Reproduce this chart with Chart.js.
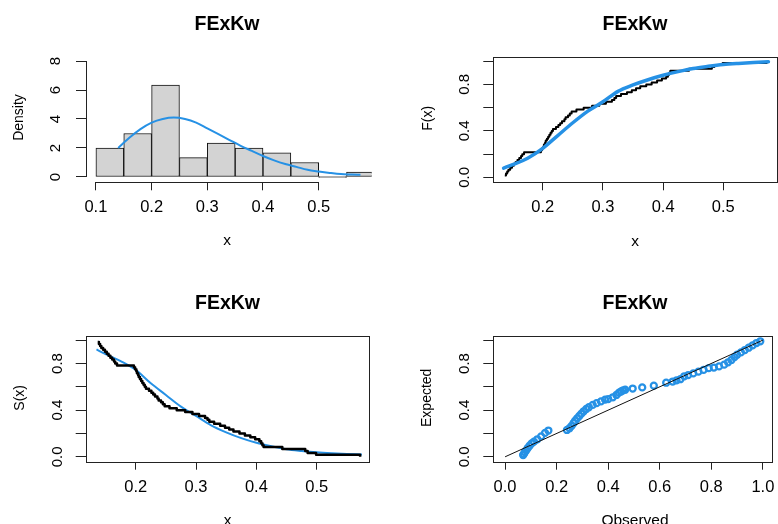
<!DOCTYPE html>
<html><head><meta charset="utf-8">
<script src="https://cdn.jsdelivr.net/npm/chart.js@4.4.1/dist/chart.umd.min.js"></script>
<style>
html,body{margin:0;padding:0;background:#fff;}
#wrap{position:relative;width:778px;height:524px;overflow:hidden;background:#fff;}
canvas{position:absolute;left:0;top:0;}
</style></head><body>
<div id="wrap">
<canvas id="c1" width="778" height="524"></canvas>
<canvas id="c2" width="778" height="524"></canvas>
<canvas id="c3" width="778" height="524"></canvas>
<canvas id="c4" width="778" height="524"></canvas>
</div>
<script>
// ---------------- data ----------------
const panelTitle = 'FExKw';
// histogram
const histBreaks = [0.1,0.15,0.2,0.25,0.3,0.35,0.4,0.45,0.5,0.55,0.6];
const histDensity = [2.0,3.0,6.333,1.333,2.333,2.0,1.667,1.0,0,0.333];
const histXTicks = [0.1,0.2,0.3,0.4,0.5];
const histXLabels = ['0.1','0.2','0.3','0.4','0.5'];
const histYTicks = [0,2,4,6,8];
const histYLabels = ['0','2','4','6','8'];
// fitted density
const densX = [0.14,0.16,0.18,0.2,0.22,0.24,0.26,0.28,0.3,0.32,0.34,0.36,0.38,0.4,0.42,0.44,0.46,0.48,0.5,0.52,0.54,0.56,0.575];
const densY = [2.0,2.7,3.3,3.75,4.0,4.1,4.0,3.75,3.35,2.95,2.55,2.15,1.8,1.45,1.15,0.9,0.7,0.5,0.38,0.28,0.2,0.17,0.15];
// sorted sample (n = 60)
const sample = [0.137,0.139,0.141,0.143,0.146,0.149,
  0.152,0.155,0.158,0.161,0.164,0.166,0.169,0.197,0.199,
  0.201,0.202,0.204,0.205,0.207,0.209,0.211,0.213,0.215,0.217,0.222,0.226,0.229,0.232,0.236,0.238,0.242,0.245,0.248,
  0.256,0.268,0.282,0.294,
  0.305,0.315,0.319,0.322,0.330,0.340,0.348,
  0.355,0.362,0.372,0.381,0.390,0.398,
  0.405,0.408,0.410,0.412,0.443,
  0.481,0.485,0.499,
  0.572];
// fitted CDF and survival
const fitX = [0.135,0.15,0.175,0.2,0.225,0.25,0.275,0.3,0.325,0.35,0.375,0.4,0.425,0.45,0.475,0.5,0.525,0.55,0.575];
const fitCdf = [0.08,0.11,0.165,0.25,0.36,0.47,0.57,0.65,0.74,0.795,0.84,0.878,0.91,0.937,0.955,0.97,0.98,0.988,0.994];
const fitSf = [0.92,0.88,0.82,0.745,0.63,0.53,0.43,0.35,0.27,0.21,0.16,0.12,0.09,0.065,0.05,0.038,0.03,0.024,0.02];
const distXTicks = [0.2,0.3,0.4,0.5];
const distXLabels = ['0.2','0.3','0.4','0.5'];
const probTicks = [0,0.2,0.4,0.6,0.8,1.0];
const probLabels = ['0.0','','0.4','','0.8',''];
// P-P plot
const ppObserved = [0.070,0.073,0.077,0.082,0.088,0.095,0.103,0.112,0.125,0.140,0.155,0.168,
  0.240,0.250,0.258,0.266,0.272,0.280,0.288,0.296,0.305,0.315,0.325,0.340,0.355,0.372,0.388,0.400,0.418,0.432,0.442,0.450,0.458,0.466,
  0.495,0.532,0.577,
  0.625,0.650,0.665,0.680,0.695,0.710,0.730,0.750,0.770,0.790,0.810,0.830,0.850,0.865,0.878,0.890,0.900,0.915,0.930,0.945,0.960,0.975,0.990];
const ppExpected = [0.015,0.025,0.04,0.055,0.075,0.095,0.115,0.13,0.15,0.175,0.205,0.225,
  0.23,0.245,0.265,0.29,0.31,0.33,0.35,0.37,0.39,0.41,0.425,0.445,0.46,0.475,0.49,0.495,0.51,0.53,0.55,0.56,0.57,0.575,
  0.585,0.595,0.61,
  0.635,0.645,0.655,0.665,0.69,0.70,0.715,0.73,0.745,0.76,0.765,0.775,0.79,0.81,0.83,0.855,0.875,0.895,0.915,0.935,0.955,0.975,0.99];
const refLine = [0,1];
const ppXTicks = [0,0.2,0.4,0.6,0.8,1.0];
const ppXLabels = ['0.0','0.2','0.4','0.6','0.8','1.0'];

// ---------------- styling ----------------
const BLUE = 'rgb(38,145,229)';
const FONT = '"Liberation Sans", Arial, Helvetica, sans-serif';
const W = 778, H = 524;

const rDecor = {
  id: 'rdecor',
  afterDraw(chart, args, o) {
    const ctx = chart.ctx, a = chart.chartArea;
    ctx.save();
    ctx.strokeStyle = '#222';
    ctx.lineWidth = 1;
    if (o.box) {
      const l = Math.round(a.left) + 0.5, t = Math.round(a.top) + 0.5;
      const r = Math.round(a.right) + 0.5, b = Math.round(a.bottom) + 0.5;
      ctx.strokeRect(l, t, r - l, b - t);
    }
    if (o.axisLines) {
      const xs = chart.scales.x, ys = chart.scales.y;
      const xt = o.axisLines.x, yt = o.axisLines.y;
      const by = Math.round(a.bottom) + 0.5, lx = Math.round(a.left) + 0.5;
      ctx.beginPath();
      ctx.moveTo(xs.getPixelForValue(xt[0]), by);
      ctx.lineTo(xs.getPixelForValue(xt[xt.length - 1]), by);
      ctx.moveTo(lx, ys.getPixelForValue(yt[0]));
      ctx.lineTo(lx, ys.getPixelForValue(yt[yt.length - 1]));
      ctx.stroke();
    }
    ctx.fillStyle = '#000';
    ctx.textBaseline = 'alphabetic';
    ctx.textAlign = 'center';
    ctx.font = 'bold 19.5px ' + FONT;
    ctx.fillText(o.title, o.titlePos[0], o.titlePos[1]);
    ctx.font = '15.5px ' + FONT;
    ctx.fillText(o.xlab, o.xlabPos[0], o.xlabPos[1]);
    ctx.translate(o.ylabPos[0], o.ylabPos[1]);
    ctx.rotate(-Math.PI / 2);
    ctx.font = '14px ' + FONT;
    ctx.fillText(o.ylab, 0, 0);
    ctx.restore();
  }
};

function xAxis(min, max, ticks, labels, pad) {
  return {
    type: 'linear', min, max, offset: false,
    afterBuildTicks: s => { s.ticks = ticks.map(v => ({ value: v })); },
    afterFit: s => { s.height = 40; s.paddingLeft = 0; s.paddingRight = 0; },
    grid: { drawOnChartArea: false, offset: false, tickLength: 8, color: '#222', tickWidth: 1 },
    border: { display: false },
    ticks: { autoSkip: false, maxRotation: 0, minRotation: 0, padding: pad, color: '#000',
      font: { family: FONT, size: 16.5 },
      callback: (v, i) => labels[i] }
  };
}
function yAxis(min, max, ticks, labels, pad) {
  return {
    type: 'linear', min, max,
    afterBuildTicks: s => { s.ticks = ticks.map(v => ({ value: v })); },
    afterFit: s => { s.width = 70; s.paddingTop = 0; s.paddingBottom = 0; },
    grid: { drawOnChartArea: false, offset: false, tickLength: 10, color: '#222', tickWidth: 1 },
    border: { display: false },
    ticks: { autoSkip: false, minRotation: 90, maxRotation: 90, crossAlign: 'center', padding: pad, color: '#000',
      font: { family: FONT, size: 15 },
      callback: (v, i) => labels[i] }
  };
}
function area(L, T, R, B) {
  return { padding: { left: L - 70, top: T, right: W - R, bottom: H - B - 40 } };
}
const common = { responsive: false, animation: false, events: [], devicePixelRatio: 1 };

// ---------- Panel 1: histogram + density ----------
const histMid = histDensity.map((d, i) => (histBreaks[i] + histBreaks[i + 1]) / 2);
new Chart(document.getElementById('c1'), {
  type: 'bar',
  data: { datasets: [
    { type: 'line', data: densX.map((x, i) => ({ x, y: densY[i] })), borderColor: BLUE, borderWidth: 2,
      pointRadius: 0, cubicInterpolationMode: 'monotone', order: 0 },
    { type: 'bar', data: histMid.map((x, i) => ({ x, y: histDensity[i] })), backgroundColor: '#d3d3d3',
      borderColor: '#111', borderWidth: 1, borderSkipped: false, barPercentage: 1, categoryPercentage: 1,
      minBarLength: 1, order: 1 }
  ] },
  options: Object.assign({}, common, {
    layout: area(86, 56.7, 371.7, 182.3),
    plugins: { legend: { display: false }, tooltip: { enabled: false },
      rdecor: { title: panelTitle, titlePos: [227, 30.3], xlab: 'x', xlabPos: [227, 245], ylab: 'Density', ylabPos: [23, 117.5],
        axisLines: { x: histXTicks, y: histYTicks } } },
    scales: { x: xAxis(0.0822, 0.5952, histXTicks, histXLabels, 7.4), y: yAxis(-0.366, 8.297, histYTicks, histYLabels, 15.5) }
  }),
  plugins: [rDecor]
});

// ---------- Panel 2: CDF ----------
const n = sample.length;
new Chart(document.getElementById('c2'), {
  type: 'line',
  data: { datasets: [
    { data: fitX.map((x, i) => ({ x, y: fitCdf[i] })), borderColor: BLUE, borderWidth: 3.5, pointRadius: 0,
      cubicInterpolationMode: 'monotone', borderCapStyle: 'round', borderJoinStyle: 'round', order: 0 },
    { data: sample.map((x, i) => ({ x, y: (i + 1) / n })), borderColor: '#000', borderWidth: 2, pointRadius: 0,
      stepped: 'before', borderJoinStyle: 'round', order: 1 }
  ] },
  options: Object.assign({}, common, {
    layout: area(493.3, 56.7, 776.7, 182.3),
    plugins: { legend: { display: false }, tooltip: { enabled: false },
      rdecor: { box: true, title: panelTitle, titlePos: [635, 30.3], xlab: 'x', xlabPos: [635, 246], ylab: 'F(x)', ylabPos: [431.5, 118.3] } },
    scales: { x: xAxis(0.1179, 0.5887, distXTicks, distXLabels, 7.4), y: yAxis(-0.042, 1.038, probTicks, probLabels, 7.6) }
  }),
  plugins: [rDecor]
});

// ---------- Panel 3: survival ----------
new Chart(document.getElementById('c3'), {
  type: 'line',
  data: { datasets: [
    { data: sample.map((x, i) => ({ x, y: 1 - (i + 1) / n })), borderColor: '#000', borderWidth: 2.5, pointRadius: 0,
      stepped: 'before', borderJoinStyle: 'round', order: 0 },
    { data: fitX.map((x, i) => ({ x, y: fitSf[i] })), borderColor: BLUE, borderWidth: 2, pointRadius: 0,
      cubicInterpolationMode: 'monotone', order: 1 }
  ] },
  options: Object.assign({}, common, {
    layout: area(85.7, 335.7, 369.3, 461.7),
    plugins: { legend: { display: false }, tooltip: { enabled: false },
      rdecor: { box: true, title: panelTitle, titlePos: [227.5, 308.7], xlab: 'x', xlabPos: [227.5, 525], ylab: 'S(x)', ylabPos: [23.5, 397.8] } },
    scales: { x: xAxis(0.1171, 0.5872, distXTicks, distXLabels, 7.4), y: yAxis(-0.042, 1.038, probTicks, probLabels, 7.5) }
  }),
  plugins: [rDecor]
});

// ---------- Panel 4: P-P plot ----------
new Chart(document.getElementById('c4'), {
  type: 'scatter',
  data: { datasets: [
    { type: 'line', data: refLine.map(v => ({ x: v, y: v })), borderColor: '#111', borderWidth: 1, pointRadius: 0, order: 0 },
    { data: ppObserved.map((x, i) => ({ x, y: ppExpected[i] })), showLine: false, pointStyle: 'circle', pointRadius: 3,
      pointBorderWidth: 2.3, pointBorderColor: BLUE, pointBackgroundColor: 'rgba(0,0,0,0)', order: 1 }
  ] },
  options: Object.assign({}, common, {
    layout: area(493.3, 335.7, 776.7, 461.7),
    plugins: { legend: { display: false }, tooltip: { enabled: false },
      rdecor: { box: true, title: panelTitle, titlePos: [635, 308.7], xlab: 'Observed', xlabPos: [635, 525], ylab: 'Expected', ylabPos: [430.5, 397.8] } },
    scales: { x: xAxis(-0.0457, 1.0343, ppXTicks, ppXLabels, 7.4), y: yAxis(-0.042, 1.038, probTicks, probLabels, 7.6) }
  }),
  plugins: [rDecor]
});
</script>
</body></html>
